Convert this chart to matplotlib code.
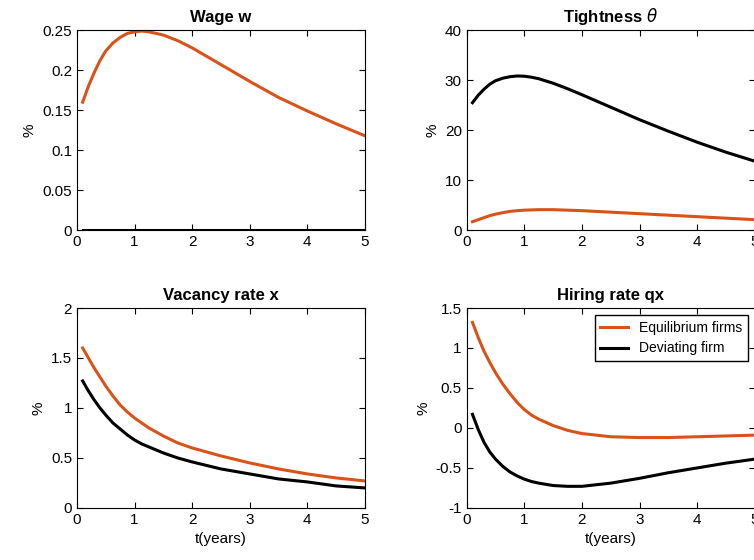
import matplotlib.pyplot as plt
import numpy as np

plt.rcParams['font.family'] = ['Liberation Sans', 'DejaVu Sans']
plt.rcParams['font.size'] = 11

t = [0.1, 0.2, 0.3, 0.4, 0.5, 0.625, 0.75, 0.875, 1, 1.125, 1.25, 1.5, 1.75, 2, 2.5, 3, 3.5, 4, 4.5, 5]

wage_eq = [0.16, 0.18, 0.197, 0.212, 0.224, 0.234, 0.241, 0.246, 0.248, 0.249, 0.248, 0.244, 0.237, 0.228,
           0.207, 0.186, 0.166, 0.149, 0.133, 0.118]
wage_dev = [0] * len(t)

tight_eq = [1.7, 2.1, 2.5, 2.9, 3.2, 3.5, 3.75, 3.9, 4.0, 4.05, 4.1, 4.1, 4.0, 3.9,
            3.6, 3.3, 3.0, 2.7, 2.4, 2.1]
tight_dev = [25.5, 27.0, 28.2, 29.2, 29.9, 30.4, 30.7, 30.85, 30.8, 30.6, 30.3, 29.4, 28.3, 27.1,
             24.6, 22.1, 19.8, 17.6, 15.6, 13.8]

vac_eq = [1.6, 1.5, 1.4, 1.31, 1.22, 1.12, 1.03, 0.96, 0.9, 0.85, 0.8, 0.72, 0.65, 0.6,
          0.52, 0.45, 0.39, 0.34, 0.3, 0.27]
vac_dev = [1.27, 1.17, 1.08, 1.0, 0.93, 0.85, 0.79, 0.73, 0.68, 0.64, 0.61, 0.55, 0.5, 0.46,
           0.39, 0.34, 0.29, 0.26, 0.22, 0.2]

hire_eq = [1.32, 1.13, 0.96, 0.82, 0.69, 0.55, 0.43, 0.32, 0.23, 0.16, 0.11, 0.03, -0.03, -0.07,
           -0.11, -0.12, -0.12, -0.11, -0.1, -0.09]
hire_dev = [0.17, -0.02, -0.18, -0.3, -0.39, -0.48, -0.55, -0.6, -0.64, -0.67, -0.69, -0.72, -0.73, -0.73,
            -0.69, -0.63, -0.56, -0.5, -0.44, -0.39]

orange = '#D95319'
panels = [
    ('Wage w', wage_eq, wage_dev, (0, 0.25), np.arange(0, 0.26, 0.05), [0.102, 0.589]),
    (r'Tightness $\theta$', tight_eq, tight_dev, (0, 40), np.arange(0, 41, 10), [0.619, 0.589]),
    ('Vacancy rate x', vac_eq, vac_dev, (0, 2), np.arange(0, 2.1, 0.5), [0.102, 0.093]),
    ('Hiring rate qx', hire_eq, hire_dev, (-1, 1.5), np.arange(-1, 1.6, 0.5), [0.619, 0.093]),
]

fig = plt.figure(figsize=(7.54, 5.6), dpi=100)
for i, (title, eq, dev, ylim, yticks, pos) in enumerate(panels):
    ax = fig.add_axes([pos[0], pos[1], 0.382, 0.357])
    ax.plot(t, eq, color=orange, lw=2.2, label='Equilibrium firms')
    ax.plot(t, dev, color='black', lw=2.2, label='Deviating firm')
    ax.set_xlim(0, 5)
    ax.set_ylim(*ylim)
    ax.set_yticks(yticks)
    ax.set_yticklabels([f'{v:g}' for v in yticks])
    ax.set_xticks(range(6))
    ax.set_title(title, fontweight='bold', fontsize=12)
    ax.set_ylabel('%')
    ax.tick_params(direction='in', length=4, top=True, right=True)
    if i >= 2:
        ax.set_xlabel('t(years)')
    if i == 3:
        ax.legend(loc='upper right', fontsize=10, fancybox=False, edgecolor='black', framealpha=1)

fig.savefig('out.png', dpi=100)
